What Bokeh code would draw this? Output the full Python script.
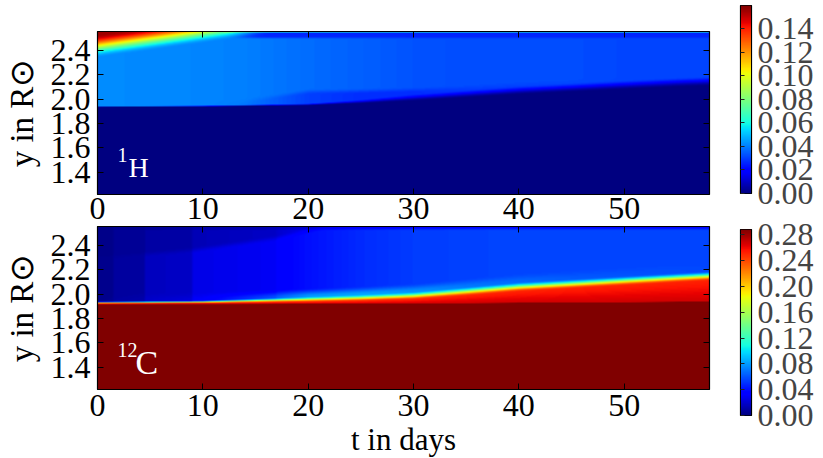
import numpy as np
from bokeh.plotting import figure
from bokeh.models import (LinearColorMapper, FixedTicker, LinearAxis, Label,
                          Range1d, PrintfTickFormatter)
from bokeh.layouts import row, column
from bokeh.embed import file_html
from bokeh.resources import INLINE

# ---------------- values ----------------
T_END = 58.1                      # last day shown
Y_LOW, Y_HIGH = 1.218, 2.555      # radial extent shown (R_sun)
X_TICKS = [0, 10, 20, 30, 40, 50]
Y_TICKS = [1.4, 1.6, 1.8, 2.0, 2.2, 2.4]
H_CBAR_TICKS = [0.00, 0.02, 0.04, 0.06, 0.08, 0.10, 0.12, 0.14]
H_VMAX = 0.1595
C_CBAR_TICKS = [0.00, 0.04, 0.08, 0.12, 0.16, 0.20, 0.24, 0.28]
C_VMAX = 0.288
Y_LABEL = "y in R\u2299"
X_LABEL = "t in days"

# 1H panel: lower edge of the H-bearing layer and its levels, at sample days
H_DAYS = [0, 10, 14, 20, 25, 30, 35, 40, 45, 50, 55, 58.1]
H_EDGE = [1.934, 1.938, 1.942, 1.948, 1.962, 1.982, 2.008, 2.035, 2.055, 2.075, 2.095, 2.105]
H_EDGE_WIDTH = [0.008, 0.010, 0.012, 0.016, 0.035, 0.06, 0.07, 0.075, 0.08, 0.085, 0.085, 0.085]
H_LOWER_LEVEL = [0.042, 0.041, 0.039, 0.030, 0.027, 0.027, 0.029, 0.030, 0.031, 0.031, 0.031, 0.031]
H_UPPER_LEVEL = [0.042, 0.041, 0.040, 0.037, 0.035, 0.033, 0.032, 0.032, 0.032, 0.031, 0.031, 0.031]
H_LOWER_THICK = [0.0, 0.0, 0.02, 0.09, 0.08, 0.07, 0.06, 0.06, 0.06, 0.06, 0.06, 0.06]
# H-rich envelope at the top left, receding upward
H_FRONT_DAYS = [0, 6, 12, 18]
H_FRONT_BASE = [2.340, 2.410, 2.482, 2.554]
H_FRONT_DEPTH = 0.19
H_FRONT_PEAK = 0.155
H_SKIN = 0.026
H_TOP_LINE = 0.06

# 12C panel: core top, red layer top, fall-off width, light halo, envelope levels
C_DAYS = [0, 10, 20, 25, 30, 35, 40, 45, 50, 55, 58.1]
C_CORE_TOP = [1.917, 1.918, 1.920, 1.921, 1.922, 1.925, 1.928, 1.930, 1.933, 1.936, 1.938]
C_RED_TOP = [1.922, 1.926, 1.935, 1.942, 1.955, 1.985, 2.020, 2.045, 2.070, 2.095, 2.110]
C_FALL_WIDTH = [0.018, 0.022, 0.045, 0.055, 0.065, 0.075, 0.08, 0.08, 0.08, 0.08, 0.08]
C_HALO = [0.0, 0.006, 0.04, 0.035, 0.025, 0.016, 0.01, 0.006, 0.004, 0.002, 0.0]
C_ENV_DAYS = [0, 1.4, 1.6, 4.4, 4.6, 8.9, 9.1, 16.9, 17.1, 20, 25, 30, 40, 58.1]
C_ENV_LOW = [0.004, 0.004, 0.008, 0.009, 0.016, 0.018, 0.026, 0.030, 0.034, 0.040, 0.048, 0.053, 0.056, 0.056]
C_ENV_HIGH = [0.003, 0.003, 0.006, 0.006, 0.009, 0.010, 0.014, 0.018, 0.020, 0.028, 0.042, 0.049, 0.054, 0.055]
C_SPLIT_DAYS = [0, 9, 17, 22, 58.1]
C_SPLIT = [2.30, 2.36, 2.46, 2.56, 2.60]
C_CORE = 0.30
C_RED_LOW, C_RED_HIGH = 0.268, 0.252

# ---------------- jet palette ----------------
def jet_palette(n=256):
    x = np.linspace(0, 1, n)
    r = np.interp(x, [0, .35, .66, .89, 1], [0, 0, 1, 1, .5])
    g = np.interp(x, [0, .125, .375, .64, .91, 1], [0, 0, 1, 1, 0, 0])
    b = np.interp(x, [0, .11, .34, .65, 1], [.5, 1, 1, 0, 0])
    return ["#%02x%02x%02x" % (int(round(255 * a)), int(round(255 * c)), int(round(255 * d)))
            for a, c, d in zip(r, g, b)]

JET = jet_palette()

# ---------------- build the two fields ----------------
NX, NY = 612, 163
tt = (np.arange(NX) + 0.5) * T_END / NX
yy = Y_LOW + (np.arange(NY) + 0.5) * (Y_HIGH - Y_LOW) / NY
T, Y = np.meshgrid(tt, yy)


def at(days, vals):
    return np.interp(tt, days, vals)[None, :]


def ss(x):
    x = np.clip(x, 0, 1)
    return x * x * (3 - 2 * x)


def hydrogen_field():
    edge = at(H_DAYS, H_EDGE)
    w = at(H_DAYS, H_EDGE_WIDTH)
    lo = at(H_DAYS, H_LOWER_LEVEL)
    up = at(H_DAYS, H_UPPER_LEVEL)
    th = at(H_DAYS, H_LOWER_THICK)
    base = lo + (up - lo) * ss((Y - edge - th) / 0.05)
    v = base * ss((Y - edge) / w)
    late = ss((T - 12) / 4)
    v = v + (H_SKIN - v) * ss((Y - 2.49) / 0.025) * late
    v = np.where((Y > 2.546) & (T > 12), H_TOP_LINE, v)
    fb = at(H_FRONT_DAYS, H_FRONT_BASE)
    v = v + (H_FRONT_PEAK - v) * ss((Y - fb) / H_FRONT_DEPTH)
    return v


def carbon_field():
    core = at(C_DAYS, C_CORE_TOP)
    red = at(C_DAYS, C_RED_TOP)
    fw = at(C_DAYS, C_FALL_WIDTH)
    halo = at(C_DAYS, C_HALO)
    elow = at(C_ENV_DAYS, C_ENV_LOW)
    ehigh = at(C_ENV_DAYS, C_ENV_HIGH)
    split = at(C_SPLIT_DAYS, C_SPLIT)
    env = elow + (ehigh - elow) * ss((Y - split) / 0.06 + 0.5)
    env = env + halo * (1 - ss((Y - red - fw) / 0.07))
    env = env * (1 - 0.35 * ss((Y - 2.52) / 0.03))
    redv = C_RED_LOW + (C_RED_HIGH - C_RED_LOW) * np.clip((Y - core) / np.maximum(red - core, 1e-3), 0, 1)
    v = redv + (env - redv) * ss((Y - red) / fw)
    v = v + (C_CORE - v) * (1 - ss((Y - core) / 0.006 + 0.5))
    return v


FONT = "Liberation Serif"


def hide_labels(ax):
    ax.major_label_text_font_size = "0px"
    ax.major_label_text_color = None
    ax.major_label_standoff = 0


def style_axis(ax, show_labels, standoff=0):
    ax.major_tick_in = 6
    ax.major_tick_out = 0
    ax.minor_tick_in = 0
    ax.minor_tick_out = 0
    ax.axis_line_color = "black"
    ax.axis_line_width = 1.2
    ax.major_tick_line_color = "black"
    ax.major_label_text_font = FONT
    ax.major_label_text_color = "black"
    if show_labels:
        ax.major_label_text_font_size = "32px"
        ax.major_label_standoff = standoff
    else:
        hide_labels(ax)


def panel(field, vmax, top_border, bottom_border, x_standoff, iso_sup, iso_main, main_size, main_x):
    p = figure(frame_width=612, frame_height=163,
               x_range=Range1d(0, T_END), y_range=Range1d(Y_LOW, Y_HIGH),
               min_border_left=95, min_border_right=13,
               min_border_top=top_border, min_border_bottom=bottom_border,
               toolbar_location=None, output_backend="svg",
               background_fill_color="white", border_fill_color="white")
    mapper = LinearColorMapper(palette=JET, low=0, high=vmax)
    p.image(image=[field], x=0, y=Y_LOW, dw=T_END, dh=Y_HIGH - Y_LOW, color_mapper=mapper)
    p.grid.visible = False
    p.outline_line_color = "black"
    p.add_layout(LinearAxis(), "above")
    p.add_layout(LinearAxis(), "right")
    for ax in p.xaxis:
        ax.ticker = FixedTicker(ticks=X_TICKS)
    for ax in p.yaxis:
        ax.ticker = FixedTicker(ticks=Y_TICKS)
        ax.formatter = PrintfTickFormatter(format="%.1f")
    for ax in p.below:
        style_axis(ax, True, x_standoff)
    for ax in p.left:
        style_axis(ax, True, 7)
        ax.axis_label = Y_LABEL
        ax.axis_label_text_font = FONT
        ax.axis_label_text_font_size = "33px"
        ax.axis_label_text_font_style = "normal"
        ax.axis_label_text_color = "black"
        ax.axis_label_standoff = 8
    for ax in p.above + p.right:
        style_axis(ax, False)

    # isotope tag
    p.add_layout(Label(x=1.9, y=1.545, text=iso_sup, text_font=FONT, text_font_size="20px",
                       text_color="white", text_baseline="alphabetic", text_align="left"))
    p.add_layout(Label(x=main_x, y=1.44, text=iso_main, text_font=FONT, text_font_size=main_size,
                       text_color="white", text_baseline="alphabetic", text_align="left"))
    return p


def cbar(vmax, ticks, top_border, frame_h, bottom_border):
    q = figure(frame_width=11, frame_height=frame_h,
               x_range=Range1d(0, 1), y_range=Range1d(0, vmax),
               min_border_left=18, min_border_right=74,
               min_border_top=top_border, min_border_bottom=bottom_border,
               x_axis_location=None, y_axis_location="right",
               toolbar_location=None, output_backend="svg",
               border_fill_color="white")
    mapper = LinearColorMapper(palette=JET, low=0, high=vmax)
    ramp = np.linspace(0, vmax, 256).reshape(256, 1)
    q.image(image=[ramp], x=0, y=0, dw=1, dh=vmax, color_mapper=mapper)
    q.grid.visible = False
    q.outline_line_color = "black"
    q.outline_line_width = 1.2
    ax = q.yaxis[0]
    ax.ticker = FixedTicker(ticks=ticks)
    ax.formatter = PrintfTickFormatter(format="%.2f")
    ax.major_tick_in = 0
    ax.major_tick_out = 0
    ax.minor_tick_in = 0
    ax.minor_tick_out = 0
    ax.axis_line_color = "black"
    ax.major_label_text_font = FONT
    ax.major_label_text_font_size = "32px"
    ax.major_label_standoff = 6
    left = LinearAxis(ticker=FixedTicker(ticks=ticks))
    left.major_tick_in = 4
    left.major_tick_out = 0
    left.minor_tick_in = 0
    left.minor_tick_out = 0
    left.major_tick_line_color = "#222222"
    left.axis_line_color = "black"
    hide_labels(left)
    q.add_layout(left, "left")
    return q


p1 = panel(hydrogen_field(), H_VMAX, 31, 32, 3, "1", "H", "28px", 2.95)
p2 = panel(carbon_field(), C_VMAX, 0, 69, 5, "12", "C", "34px", 3.6)

xa = p2.below[0]
xa.axis_label = X_LABEL
xa.axis_label_text_font = FONT
xa.axis_label_text_font_size = "31px"
xa.axis_label_text_font_style = "normal"
xa.axis_label_text_color = "black"
xa.axis_label_standoff = 3

c1 = cbar(H_VMAX, H_CBAR_TICKS, 5, 188, 20)
c2 = cbar(C_VMAX, C_CBAR_TICKS, 16, 186, 43)

layout = row(column(p1, p2, spacing=0), column(c1, c2, spacing=0), spacing=0)

open("out.html", "w").write(file_html(layout, INLINE, title="abundances"))
